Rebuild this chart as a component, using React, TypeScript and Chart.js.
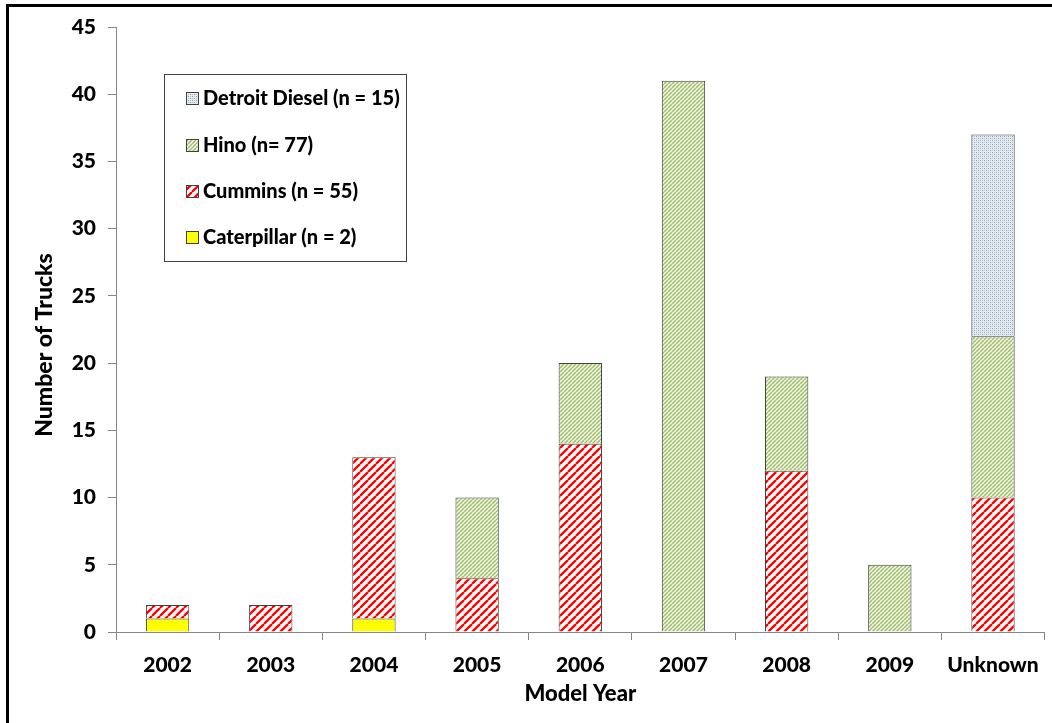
import React, { useEffect, useRef } from "react";
import { Chart, registerables } from "chart.js";

Chart.register(...registerables);

const categories = ["2002", "2003", "2004", "2005", "2006", "2007", "2008", "2009", "Unknown"];
const caterpillar = [1, null, 1, null, null, null, null, null, null];
const cummins = [1, 2, 12, 4, 14, null, 12, null, 10];
const hino = [null, null, null, 6, 6, 41, 7, 5, 12];
const detroit = [null, null, null, null, null, null, null, null, 15];
const seriesLabels = ["Caterpillar (n = 2)", "Cummins (n = 55)", "Hino (n= 77)", "Detroit Diesel (n = 15)"];
const yTicks = [0, 5, 10, 15, 20, 25, 30, 35, 40, 45];
const yTitle = "Number of Trucks";
const xTitle = "Model Year";

const FONT = "Lato, 'Open Sans', sans-serif";
const WEIGHT = "900";

function makePattern(kind: string): CanvasPattern | string {
  const c = document.createElement("canvas");
  const ctx = c.getContext("2d")!;
  if (kind === "red") {
    const s = 8;
    c.width = s; c.height = s;
    ctx.fillStyle = "#ffffff";
    ctx.fillRect(0, 0, s, s);
    ctx.strokeStyle = "#ff0000";
    ctx.lineWidth = 2.3;
    for (const o of [-s, 0, s]) {
      ctx.beginPath();
      ctx.moveTo(o, s);
      ctx.lineTo(o + s, 0);
      ctx.stroke();
    }
  } else if (kind === "green") {
    const s = 4;
    c.width = s; c.height = s;
    ctx.fillStyle = "#eef3e2";
    ctx.fillRect(0, 0, s, s);
    ctx.strokeStyle = "#a3c070";
    ctx.lineWidth = 1.5;
    for (const o of [-s, 0, s]) {
      ctx.beginPath();
      ctx.moveTo(o, s);
      ctx.lineTo(o + s, 0);
      ctx.stroke();
    }
  } else if (kind === "blue") {
    const s = 4;
    c.width = s; c.height = s;
    ctx.fillStyle = "#e4eaf1";
    ctx.fillRect(0, 0, s, s);
    ctx.fillStyle = "#8ea2b8";
    ctx.fillRect(0, 0, 1, 1);
    ctx.fillRect(2, 2, 1, 1);
    ctx.fillStyle = "#b5c3d2";
    ctx.fillRect(2, 0, 1, 1);
    ctx.fillRect(0, 2, 1, 1);
  } else {
    return "#ffff00";
  }
  return ctx.createPattern(c, "repeat")!;
}

const legendPlugin = {
  id: "boxLegend",
  afterDraw(chart: any) {
    const ctx = chart.ctx as CanvasRenderingContext2D;
    const x0 = 164, y0 = 74, w = 242, h = 187;
    ctx.save();
    ctx.fillStyle = "#ffffff";
    ctx.fillRect(x0, y0, w, h);
    ctx.strokeStyle = "#404040";
    ctx.lineWidth = 1;
    ctx.strokeRect(x0 + 0.5, y0 + 0.5, w, h);
    const order = [3, 2, 1, 0];
    const rowY = [98, 145, 191, 237];
    ctx.font = `${WEIGHT} 20px ${FONT}`;
    ctx.textBaseline = "middle";
    order.forEach((di, i) => {
      const ds = chart.data.datasets[di];
      const y = rowY[i];
      ctx.fillStyle = ds.backgroundColor;
      ctx.fillRect(186, y - 6, 13, 13);
      ctx.strokeStyle = "#404040";
      ctx.strokeRect(186.5, y - 5.5, 12, 12);
      ctx.fillStyle = "#000000";
      ctx.fillText(ds.label, 203, y + 1);
    });
    // y-axis title
    ctx.translate(45, 345);
    ctx.rotate(-Math.PI / 2);
    ctx.font = `${WEIGHT} 23px ${FONT}`;
    ctx.textAlign = "center";
    ctx.textBaseline = "middle";
    ctx.fillStyle = "#000";
    ctx.fillText(yTitle, 0, 0);
    ctx.restore();
  },
};

export default function App() {
  const ref = useRef<HTMLCanvasElement>(null);
  useEffect(() => {
    const border = "#404040";
    const chart = new Chart(ref.current!, {
      type: "bar",
      data: {
        labels: categories,
        datasets: [
          { label: seriesLabels[0], data: caterpillar, backgroundColor: makePattern("yellow") as any, borderColor: border, borderWidth: 1 },
          { label: seriesLabels[1], data: cummins, backgroundColor: makePattern("red") as any, borderColor: border, borderWidth: 1 },
          { label: seriesLabels[2], data: hino, backgroundColor: makePattern("green") as any, borderColor: border, borderWidth: 1 },
          { label: seriesLabels[3], data: detroit, backgroundColor: makePattern("blue") as any, borderColor: border, borderWidth: 1 },
        ],
      },
      options: {
        animation: false,
        responsive: false,
        maintainAspectRatio: false,
        devicePixelRatio: 1,
        layout: { padding: { left: 0, right: 5, top: 27, bottom: 0 } },
        datasets: { bar: { categoryPercentage: 1, barPercentage: 0.42 } },
        plugins: { legend: { display: false }, tooltip: { enabled: false } },
        scales: {
          x: {
            stacked: true,
            offset: true,
            grid: { display: true, offset: true, drawOnChartArea: false, drawTicks: true, tickLength: 8, color: "#868686" },
            border: { color: "#868686" },
            ticks: { color: "#000", font: { family: FONT, size: 21, weight: WEIGHT as any }, padding: 13, maxRotation: 0 },
            title: { display: true, text: xTitle, color: "#000", font: { family: FONT, size: 22, weight: WEIGHT as any }, padding: { top: 0, bottom: 16 } },
            afterFit(scale: any) { scale.height = 91; },
          },
          y: {
            stacked: true,
            min: 0,
            max: 45,
            afterBuildTicks(scale: any) { scale.ticks = yTicks.map((v) => ({ value: v })); },
            grid: { display: true, drawOnChartArea: false, drawTicks: true, tickLength: 8, color: "#868686" },
            border: { color: "#868686" },
            ticks: { color: "#000", font: { family: FONT, size: 21, weight: WEIGHT as any }, padding: 12 },
            title: { display: false },
            afterFit(scale: any) { scale.width = 116; },
          },
        },
      },
      plugins: [legendPlugin],
    });
    return () => chart.destroy();
  }, []);
  return (
    <div style={{ position: "fixed", left: 0, top: 0, width: 1052, height: 723, overflow: "hidden", background: "#fff" }}>
      <div style={{ position: "absolute", left: 6, top: 4, width: 1200, height: 900, border: "3px solid #000", boxSizing: "border-box" }} />
      <canvas ref={ref} width={1052} height={723} style={{ position: "absolute", left: 0, top: 0, width: 1052, height: 723 }} />
    </div>
  );
}
